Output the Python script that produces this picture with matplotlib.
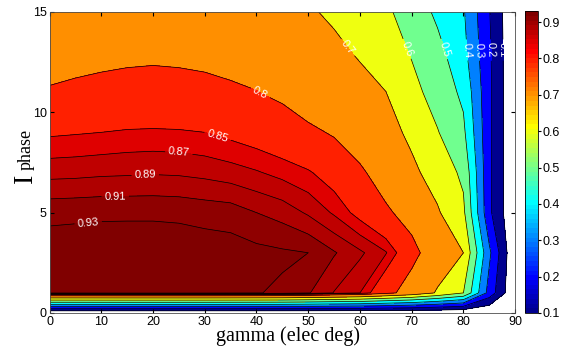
import numpy as np
import matplotlib.pyplot as plt
import matplotlib.colors as mcolors

plt.rcParams['font.family'] = ['Liberation Sans', 'DejaVu Sans']

# grid: gamma (elec deg) columns, I_phase rows
gamma = [0, 5, 10, 15, 20, 25, 30, 35, 40, 45, 50, 55, 60, 65, 70, 75, 80, 85, 90]
iphase = [0, 1, 3, 5, 7, 9, 11, 13, 15]

eff_i0 = [0.0, 0.0, 0.0, 0.0, 0.0, 0.0, 0.0, 0.0, 0.0, 0.0, 0.0, 0.0, 0.0, 0.0, 0.0, 0.0, 0.0, 0.0, 0.0]
eff_i1 = [0.934, 0.935, 0.936, 0.937, 0.937, 0.937, 0.936, 0.934, 0.931, 0.927, 0.912, 0.889, 0.870, 0.820, 0.770, 0.690, 0.600, 0.260, 0.0]
eff_i3 = [0.942, 0.943, 0.944, 0.945, 0.945, 0.944, 0.942, 0.940, 0.936, 0.933, 0.930, 0.912, 0.894, 0.872, 0.820, 0.760, 0.700, 0.320, 0.0]
eff_i5 = [0.924, 0.925, 0.926, 0.926, 0.926, 0.925, 0.922, 0.920, 0.910, 0.902, 0.887, 0.867, 0.840, 0.810, 0.775, 0.710, 0.620, 0.220, 0.0]
eff_i7 = [0.883, 0.884, 0.886, 0.887, 0.888, 0.887, 0.884, 0.879, 0.872, 0.863, 0.853, 0.835, 0.810, 0.770, 0.720, 0.660, 0.580, 0.220, 0.0]
eff_i9 = [0.846, 0.848, 0.850, 0.853, 0.854, 0.853, 0.850, 0.843, 0.835, 0.825, 0.810, 0.795, 0.765, 0.735, 0.680, 0.605, 0.520, 0.220, 0.0]
eff_i11 = [0.803, 0.806, 0.809, 0.811, 0.812, 0.811, 0.809, 0.805, 0.801, 0.790, 0.770, 0.750, 0.730, 0.701, 0.630, 0.560, 0.480, 0.220, 0.0]
eff_i13 = [0.785, 0.789, 0.791, 0.793, 0.794, 0.793, 0.791, 0.788, 0.780, 0.765, 0.745, 0.720, 0.690, 0.650, 0.592, 0.530, 0.430, 0.215, 0.0]
eff_i15 = [0.765, 0.769, 0.772, 0.775, 0.776, 0.775, 0.773, 0.770, 0.760, 0.740, 0.710, 0.685, 0.655, 0.615, 0.560, 0.480, 0.410, 0.205, 0.0]

levels = [0.1, 0.2, 0.3, 0.4, 0.5, 0.6, 0.7, 0.8, 0.85, 0.87, 0.89, 0.91, 0.93]
label_pos = {0.93: (7.5, 4.4), 0.91: (12.7, 5.8), 0.89: (18.5, 6.9), 0.87: (25, 8.0),
             0.85: (32.6, 8.9), 0.8: (41, 11.1), 0.7: (57, 13.1), 0.6: (68.5, 13.1),
             0.5: (75.7, 13.1), 0.4: (80.6, 13.1), 0.3: (83, 13.1), 0.2: (85.4, 13.1),
             0.1: (87.6, 13.1)}
cmin, cmax = 0.1, 0.93

Z = np.array([eff_i0, eff_i1, eff_i3, eff_i5, eff_i7, eff_i9, eff_i11, eff_i13, eff_i15])
G, I = np.meshgrid(gamma, iphase)


def matlab_jet(m=64):
    n = m // 4
    u = np.concatenate([np.arange(1, n + 1) / n, np.ones(n - 1), np.arange(n, 0, -1) / n])
    g = n // 2 + np.arange(1, len(u) + 1) - 1
    r, b = g + n, g - n
    J = np.zeros((m, 3))
    for col, idx in ((0, r), (1, g), (2, b)):
        ok = (idx >= 0) & (idx < m)
        J[idx[ok], col] = u[ok]
    return J


jet64 = matlab_jet(64)
cmap = mcolors.ListedColormap(jet64)
norm = mcolors.Normalize(vmin=cmin, vmax=cmax)


def band_color(v):
    k = int(np.floor((v - cmin) / (cmax - cmin) * 64))
    return jet64[min(max(k, 0), 63)]


# MATLAB style: each band takes the colour of its lower level
fill_levels = levels + [1.0]
fill_colors = [band_color(l) for l in levels]

W, H = 563, 361
fig = plt.figure(figsize=(W / 100, H / 100), dpi=100)
ax = fig.add_axes([0.088, 0.133, 0.827, 0.834])
cax = fig.add_axes([0.9325, 0.133, 0.023, 0.836])

ax.contourf(G, I, Z, levels=fill_levels, colors=fill_colors)
for lev in levels:
    cs = ax.contour(G, I, Z, levels=[lev], colors='k', linewidths=0.5)
    ax.clabel(cs, manual=[label_pos[lev]], fmt='%g', fontsize=8,
              colors='w', inline=True, inline_spacing=3)

ax.set_xlim(0, 90)
ax.set_ylim(0, 15)
ax.set_xticks(range(0, 91, 10))
ax.set_yticks([0, 5, 10, 15])
ax.tick_params(direction='in', top=True, right=True, length=3, labelsize=9, pad=2)
for s in ax.spines.values():
    s.set_linewidth(0.6)
    s.set_color('0.3')

ax.set_xlabel('gamma (elec deg)', fontsize=14.5, family='Liberation Serif', labelpad=4)
ax.xaxis.set_label_coords(0.513, -0.045, transform=ax.transAxes)
ax.xaxis.label.set_va('top')

# y label: big "I" followed by a smaller "phase" on about the same baseline
fig.text(32 / W, 1 - 183 / H, 'I', rotation=90, rotation_mode='anchor',
         ha='left', va='baseline', fontsize=20, family='Liberation Serif')
fig.text(31 / W, 1 - 170 / H, 'phase', rotation=90, rotation_mode='anchor',
         ha='left', va='baseline', fontsize=13, family='Liberation Serif')

sm = plt.cm.ScalarMappable(norm=norm, cmap=cmap)
cb = fig.colorbar(sm, cax=cax)
cb.set_ticks([0.1, 0.2, 0.3, 0.4, 0.5, 0.6, 0.7, 0.8, 0.9])
cb.ax.tick_params(labelsize=9, length=2, pad=1)
cb.outline.set_linewidth(0.6)

fig.savefig('out.png', dpi=100)
